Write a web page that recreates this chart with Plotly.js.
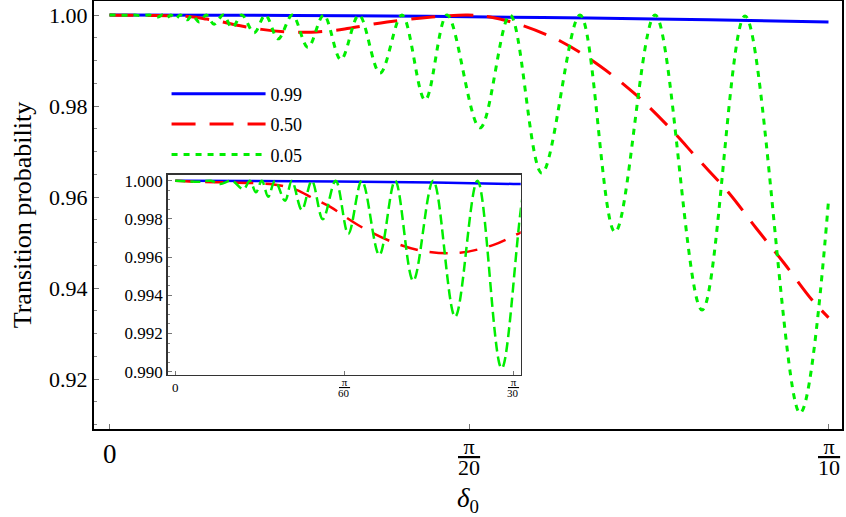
<!DOCTYPE html>
<html>
<head>
<meta charset="utf-8">
<script src="https://cdn.plot.ly/plotly-3.0.1.min.js"></script>
<style>html,body{margin:0;padding:0;background:#fff;}#chart{width:846px;height:517px;}</style>
</head>
<body>
<div id="chart"></div>
<script>
// ---- data ----
const seriesNames = ["0.99", "0.50", "0.05"];

// p = 0.99 (blue, solid)
const blueX = [0, 0.05, 0.1047, 0.157, 0.2094, 0.2618, 0.31416];
const blueY = [1.0, 0.99996, 0.99983, 0.99962, 0.99932, 0.99894, 0.99847];

// p = 0.50 (red, dashed)
const redX = [0, 0.0055, 0.0163, 0.0272, 0.0325, 0.0377, 0.0425, 0.0479, 0.0566, 0.0665, 0.0767, 0.0882, 0.0984, 0.1047,
              0.1213, 0.1409, 0.1567, 0.1663, 0.1798, 0.1977, 0.2143, 0.2301, 0.2440, 0.2571, 0.2703, 0.2825, 0.2947, 0.3070, 0.31416];
const redY = [1.0, 0.99995, 0.99991, 0.99985, 0.99975, 0.99951, 0.9991, 0.99864, 0.99768, 0.99684, 0.99632, 0.99623, 0.99663, 0.9971,
              0.99846, 0.99956, 1.0, 0.99956, 0.9978, 0.99407, 0.98879, 0.98242, 0.9756, 0.96835, 0.9611, 0.95319, 0.94549, 0.93736, 0.9335];

// p = 0.05 (green, dotted) : alternating peaks and troughs
const greenX = [0, 0.0080, 0.0110, 0.0139, 0.0175, 0.0211, 0.0231, 0.0250, 0.0268, 0.0288, 0.0309, 0.0340, 0.0361, 0.0392,
                0.0423, 0.0457, 0.0497, 0.0536, 0.0578, 0.0632, 0.0681, 0.0737, 0.0799, 0.0867, 0.0936, 0.1011, 0.1090,
                0.1182, 0.1278, 0.1379, 0.1475, 0.1619, 0.1750, 0.1889, 0.2056, 0.2209, 0.2384, 0.2589, 0.2777, 0.3017, 0.31416];
const greenY = [1.0, 0.99995, 1.0, 0.99983, 1.0, 0.99955, 1.0, 0.99939, 1.0, 0.99916, 1.0, 0.99895, 1.0, 0.99847,
                1.0, 0.99798, 1.0, 0.99721, 1.0, 0.99611, 1.0, 0.99476, 1.0, 0.99288, 1.0, 0.99018, 1.0,
                0.98725, 1.0, 0.9813, 1.0, 0.9752, 1.0, 0.96527, 1.0, 0.9523, 1.0, 0.93516, 0.9998, 0.91253, 0.95919];

// tick labels (fractions: numerator over denominator)
const mainXTickVals = [0, Math.PI / 20, Math.PI / 10];
const mainXTickNum = ["0", "π", "π"];
const mainXTickDen = ["", "20", "10"];
const mainYTickVals = [0.92, 0.94, 0.96, 0.98, 1.00];
const insetXTickVals = [0, Math.PI / 60, Math.PI / 30];
const insetXTickNum = ["0", "π", "π"];
const insetXTickDen = ["", "60", "30"];
const insetYTickVals = [0.990, 0.992, 0.994, 0.996, 0.998, 1.000];

// ---- build ----
const colors = ["#0000ff", "#ff0000", "#00ee00"];
const FONT = "Liberation Serif, DejaVu Serif, serif";

const xs = [blueX, redX, greenX], ys = [blueY, redY, greenY];
const mainDash = ["solid", "24px,14px", "6px,6px"];
const insetDash = ["solid", "18px,12px", "10px,5px"];
const traces = [];
for (let i = 0; i < 3; i++) {
  traces.push({
    x: xs[i], y: ys[i], type: "scatter", mode: "lines", name: seriesNames[i],
    legendgroup: "g" + i, showlegend: true,
    line: {color: colors[i], width: 3, dash: mainDash[i], shape: "spline", smoothing: 1},
    xaxis: "x", yaxis: "y", hoverinfo: "skip"
  });
}
for (let i = 0; i < 3; i++) {
  traces.push({
    x: xs[i], y: ys[i], type: "scatter", mode: "lines", name: seriesNames[i],
    showlegend: false,
    line: {color: colors[i], width: 2.5, dash: insetDash[i], shape: "spline", smoothing: 1},
    xaxis: "x2", yaxis: "y2", hoverinfo: "skip"
  });
}

// tick-label annotations (stacked fractions)
function fracAnnots(vals, nums, dens, xref, yref, big, small, shNum, shDen, shSingle) {
  const out = [];
  vals.forEach((v, i) => {
    if (!dens[i]) {
      out.push({x: v, y: 0, xref: xref, yref: yref, text: nums[i], showarrow: false,
                xanchor: "center", yanchor: "middle", yshift: shSingle, font: {family: FONT, size: big, color: "#000"}});
    } else {
      out.push({x: v, y: 0, xref: xref, yref: yref,
                text: "<span style='text-decoration:underline'>\u00a0" + nums[i] + "\u00a0</span>", showarrow: false,
                xanchor: "center", yanchor: "middle", yshift: shNum, font: {family: FONT, size: small, color: "#000"}});
      out.push({x: v, y: 0, xref: xref, yref: yref, text: dens[i], showarrow: false,
                xanchor: "center", yanchor: "middle", yshift: shDen, font: {family: FONT, size: small, color: "#000"}});
    }
  });
  return out;
}
const annotations = []
  .concat(fracAnnots(mainXTickVals, mainXTickNum, mainXTickDen, "x", "y domain", 27, 22, -17, -38, -25))
  .concat(fracAnnots(insetXTickVals, insetXTickNum, insetXTickDen, "x2", "y2 domain", 13, 11, -7, -18, -13));

const layout = {
  width: 846, height: 517,
  margin: {l: 94, r: 4, t: 1, b: 88},
  paper_bgcolor: "#ffffff", plot_bgcolor: "#ffffff",
  font: {family: FONT, color: "#000"},
  showlegend: true,
  legend: {x: 0.097, y: 0.826, xanchor: "left", yanchor: "top", bgcolor: "rgba(0,0,0,0)",
           font: {family: FONT, size: 18, color: "#000"}, itemwidth: 94, tracegroupgap: 4,
           traceorder: "grouped"},
  annotations: annotations,
  xaxis: {
    domain: [0, 1], range: [-0.006773, 0.32006], showgrid: false, zeroline: false,
    showline: true, mirror: true, linecolor: "#000", linewidth: 2,
    ticks: "inside", ticklen: 5, tickcolor: "#777", tickwidth: 1,
    tickvals: mainXTickVals, showticklabels: false,
    title: {text: "<i>δ</i><sub>0</sub>", font: {family: FONT, size: 27}, standoff: 60}
  },
  yaxis: {
    domain: [0, 1], range: [0.909011, 1.003077], showgrid: false, zeroline: false,
    showline: true, mirror: true, linecolor: "#000", linewidth: 2,
    ticks: "inside", ticklen: 5, tickcolor: "#777", tickwidth: 1,
    tickvals: mainYTickVals, tickformat: ".2f", tickfont: {family: FONT, size: 22},
    minor: {dtick: 0.005, tick0: 0.9, ticks: "inside", ticklen: 3, tickcolor: "#888"},
    title: {text: "Transition probability", font: {family: FONT, size: 26}, standoff: 10}
  },
  xaxis2: {
    domain: [0.0985, 0.5705], anchor: "y2", range: [-0.00235, 0.10701], showgrid: false, zeroline: false,
    showline: true, mirror: true, linecolor: "#333", linewidth: 1.5,
    ticks: "inside", ticklen: 4, tickcolor: "#777",
    tickvals: insetXTickVals, showticklabels: false
  },
  yaxis2: {
    domain: [0.1262, 0.5942], anchor: "x2", range: [0.98983, 1.000314], showgrid: false, zeroline: false,
    showline: true, mirror: true, linecolor: "#333", linewidth: 1.5,
    ticks: "inside", ticklen: 4, tickcolor: "#777",
    tickvals: insetYTickVals, tickformat: ".3f", tickfont: {family: FONT, size: 17},
    minor: {dtick: 0.0005, tick0: 0.99, ticks: "inside", ticklen: 2, tickcolor: "#888"}
  }
};

Plotly.newPlot("chart", traces, layout, {displayModeBar: false, staticPlot: true});
</script>
</body>
</html>
